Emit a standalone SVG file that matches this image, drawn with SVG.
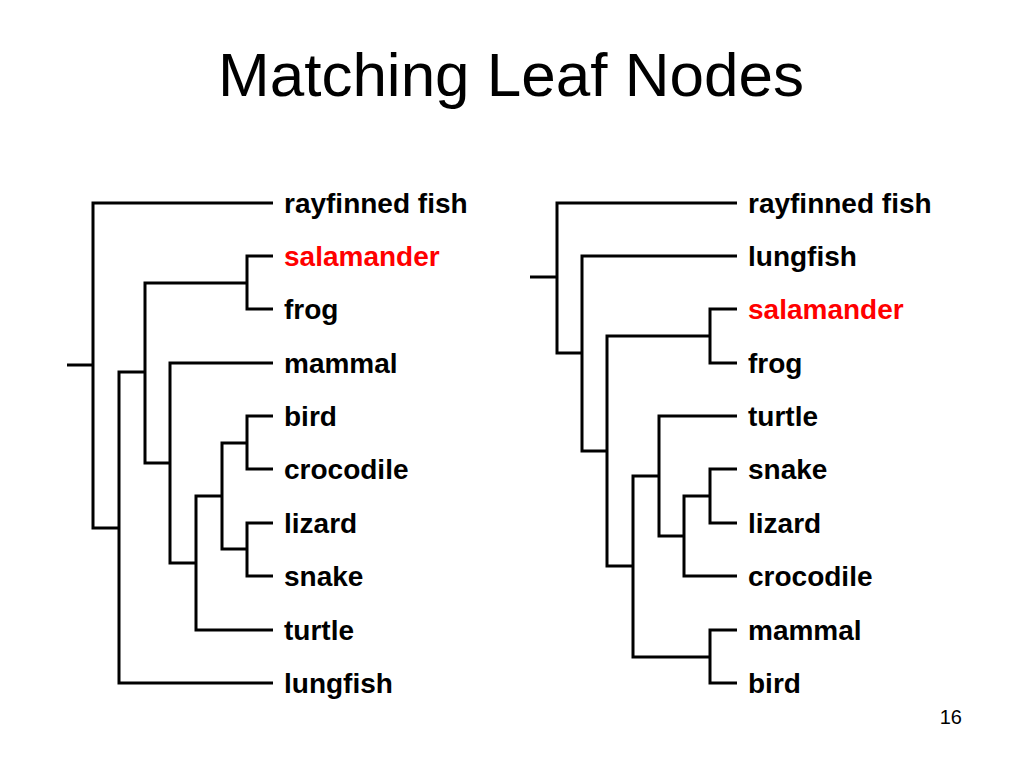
<svg xmlns="http://www.w3.org/2000/svg" width="1024" height="768" viewBox="0 0 1024 768">
<style>
.title{font-family:"Liberation Sans",Arial,sans-serif;font-size:62px;fill:#000}
.leaf{font-family:"Liberation Sans",Arial,sans-serif;font-size:28px;font-weight:bold;fill:#000}
.hl{fill:#FF0000}
.pg{font-family:"Liberation Sans",Arial,sans-serif;font-size:20px;fill:#000}
.br{fill:none;stroke:#000;stroke-width:3;stroke-linejoin:miter;stroke-linecap:butt}
</style>
<rect width="1024" height="768" fill="#fff"/>
<text class="title" x="511" y="96" text-anchor="middle">Matching Leaf Nodes</text>
<g id="connectors">
<g id="left-tree">
<path class="br" d="M67,365 H93"/>
<path class="br" d="M273,203 H93 V528 H119"/>
<path class="br" d="M145,372 H119 V683 H273"/>
<path class="br" d="M247,283 H145 V463 H170"/>
<path class="br" d="M273,256 H247 V309 H273"/>
<path class="br" d="M273,363 H170 V563 H196"/>
<path class="br" d="M222,496 H196 V630 H273"/>
<path class="br" d="M247,443 H222 V549 H247"/>
<path class="br" d="M273,416 H247 V469 H273"/>
<path class="br" d="M273,523 H247 V576 H273"/>
</g>
<g id="right-tree">
<path class="br" d="M530,277 H557"/>
<path class="br" d="M737,203 H557 V353 H582"/>
<path class="br" d="M737,256 H582 V451 H607"/>
<path class="br" d="M710,336 H607 V566 H633"/>
<path class="br" d="M737,309 H710 V363 H737"/>
<path class="br" d="M659,476 H633 V657 H710"/>
<path class="br" d="M737,416 H659 V536 H684"/>
<path class="br" d="M710,496 H684 V576 H737"/>
<path class="br" d="M737,469 H710 V523 H737"/>
<path class="br" d="M737,630 H710 V683 H737"/>
</g>
</g>
<g id="L-rayfinned-fish"><text class="leaf" x="284" y="213">rayfinned fish</text></g>
<g id="L-salamander"><text class="leaf hl" x="284" y="266">salamander</text></g>
<g id="L-frog"><text class="leaf" x="284" y="319">frog</text></g>
<g id="L-mammal"><text class="leaf" x="284" y="373">mammal</text></g>
<g id="L-bird"><text class="leaf" x="284" y="426">bird</text></g>
<g id="L-crocodile"><text class="leaf" x="284" y="479">crocodile</text></g>
<g id="L-lizard"><text class="leaf" x="284" y="533">lizard</text></g>
<g id="L-snake"><text class="leaf" x="284" y="586">snake</text></g>
<g id="L-turtle"><text class="leaf" x="284" y="640">turtle</text></g>
<g id="L-lungfish"><text class="leaf" x="284" y="693">lungfish</text></g>
<g id="R-rayfinned-fish"><text class="leaf" x="748" y="213">rayfinned fish</text></g>
<g id="R-lungfish"><text class="leaf" x="748" y="266">lungfish</text></g>
<g id="R-salamander"><text class="leaf hl" x="748" y="319">salamander</text></g>
<g id="R-frog"><text class="leaf" x="748" y="373">frog</text></g>
<g id="R-turtle"><text class="leaf" x="748" y="426">turtle</text></g>
<g id="R-snake"><text class="leaf" x="748" y="479">snake</text></g>
<g id="R-lizard"><text class="leaf" x="748" y="533">lizard</text></g>
<g id="R-crocodile"><text class="leaf" x="748" y="586">crocodile</text></g>
<g id="R-mammal"><text class="leaf" x="748" y="640">mammal</text></g>
<g id="R-bird"><text class="leaf" x="748" y="693">bird</text></g>
<text class="pg" x="962" y="724" text-anchor="end">16</text>
</svg>
